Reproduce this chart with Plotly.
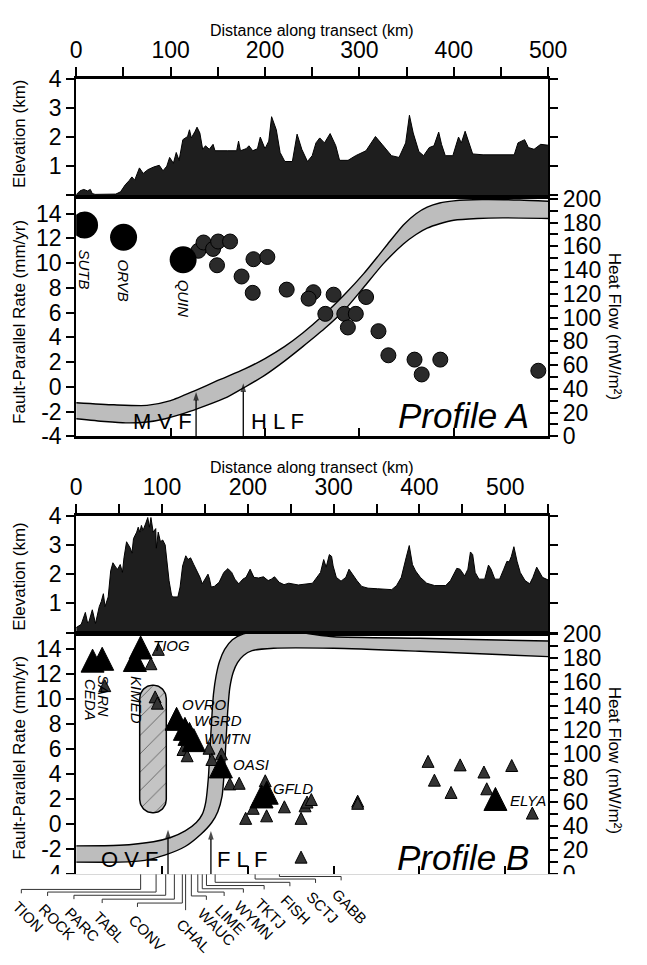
import numpy as np
import plotly.graph_objects as go

W, H = 647, 965
FONT = "Liberation Sans, Arial, Helvetica, sans-serif"

# ---------------- Profile A data ----------------
a_elev_km = [0, 2, 4, 8, 12, 15, 17, 20, 30, 42, 47, 52, 56, 59, 62, 65, 67, 71, 76, 82,
             88, 92, 96, 99, 103, 106, 109, 113, 118, 120, 122, 126, 128, 131, 134, 137, 141, 145, 147, 160,
             170, 172, 174, 180, 183, 187, 192, 195, 200, 204, 207, 212, 216, 221, 229, 234, 239, 245, 250, 254,
             258, 263, 269, 275, 279, 288, 296, 307, 317, 324, 334, 342, 349, 353, 357, 363, 368, 374, 379, 384,
             387, 391, 399, 405, 408, 412, 416, 420, 431, 464, 468, 475, 479, 485, 492, 500]
a_elev = [0.02, 0.1, 0.15, 0.2, 0.15, 0.2, 0.06, 0.03, 0.03, 0.04, 0.12, 0.36, 0.5, 0.63, 0.52, 0.75, 0.94, 0.75, 0.88, 0.97,
          1.03, 0.84, 1.0, 1.3, 1.1, 1.47, 1.2, 1.91, 2.02, 2.25, 1.97, 2.2, 2.34, 2.14, 1.58, 1.7, 1.58, 1.75, 1.53, 1.53,
          1.53, 1.86, 1.53, 1.6, 1.7, 1.53, 1.6, 2.0, 1.6, 1.86, 2.7, 2.25, 1.47, 1.16, 1.16, 2.1, 1.58, 1.16, 1.36, 1.8,
          1.97, 1.8, 2.12, 1.7, 1.2, 1.2, 1.36, 1.53, 2.02, 1.75, 1.36, 1.3, 1.8, 2.75, 2.14, 1.5, 1.36, 1.64, 1.7, 2.17,
          1.75, 1.36, 1.36, 2.0, 1.8, 2.2, 1.8, 1.42, 1.39, 1.39, 1.8, 1.91, 1.64, 1.58, 1.75, 1.72]

a_big_names = ["SUTB", "ORVB", "QUIN"]
a_big_km = [8.9, 50.2, 113.3]
a_big_rate = [13.08, 12.1, 10.27]

a_km = [129.4, 134.9, 145.0, 150.4, 149.2, 163.0, 175.2, 187.8, 202.5, 187.0, 223.0, 251.3, 246.2,
        272.7, 263.9, 284.0, 287.8, 296.2, 307.1, 320.2, 330.7, 358.4, 366.0, 385.7, 489.5]
a_rate = [11.0, 11.67, 11.15, 11.75, 9.83, 11.75, 8.92, 10.32, 10.5, 7.6, 7.86, 7.65, 7.13,
          7.45, 5.9, 5.9, 4.8, 5.9, 7.26, 4.5, 2.55, 2.2, 1.0, 2.2, 1.3]

a_hf_up_km = [0, 40, 75, 100, 126, 150, 178.6, 200, 220.6, 240, 262.6, 285, 304.6, 320, 330, 346.6,
              360, 371.8, 385, 400, 430, 470, 500]
a_hf_up = [28.3, 26.5, 26.0, 30.0, 38.5, 47.0, 56.7, 65.5, 75.5, 87.0, 102.5, 120.0, 137.0, 152.0, 162.0,
           178.0, 187.5, 193.0, 196.5, 198.3, 199.4, 199.0, 198.0]
a_hf_lo_km = [0, 30, 52.5, 75, 94.5, 115, 136.6, 160, 178.6, 200, 220.6, 240, 262.6, 285, 304.6, 325,
              346.6, 360, 371.8, 385, 400, 425, 451.7, 500]
a_hf_lo = [14.8, 12.5, 11.3, 12.0, 14.8, 19.5, 25.6, 33.0, 41.3, 51.5, 63.3, 75.5, 90.3, 107.0, 125.5,
           145.0, 162.0, 170.0, 175.3, 179.0, 182.0, 183.5, 184.0, 183.5]

a_fault_names = ["M V F", "H L F"]
a_fault_km = [127.0, 177.0]
a_fault_tip = [-0.42, 0.28]

# ---------------- Profile B data ----------------
b_elev_km = [0, 5.9, 10.7, 13.3, 15.1, 18.8, 22.5, 26.9, 29.2, 31.7, 33.6, 37.3, 40.2, 42.8, 46.5, 48.4, 51.3, 53.9, 55.7, 58.7,
             63.1, 65, 66.8, 70.5, 72.3, 74.2, 76, 77.9, 80.8, 83.4, 85.3, 87.1, 89.7, 92.7, 93.4, 95.6, 98.2, 100.8, 103.7, 105.6,
             108.2, 111.1, 113, 118.5, 121.1, 124, 127.7, 130.3, 133.3, 137, 140.6, 144.3, 146.9, 149.9, 153.6, 155.4, 157.3, 160.9, 166.5, 172,
             176.8, 181.2, 184.9, 189.4, 194.2, 197.9, 202.7, 207.1, 212.6, 218.2, 223.7, 227.4, 231.1, 236.6, 242.2, 247.7, 258.8, 275.4, 281, 284.7,
             288.4, 291.3, 295, 297.6, 299.4, 303.1, 308.6, 314.2, 317.9, 321.6, 327.1, 332.7, 340.1, 351.1, 367.7, 373.3, 378.8, 384.4, 388.1, 391.8,
             395.5, 401, 408.4, 417.6, 430.6, 436.1, 439.1, 443.5, 447.2, 452.7, 456.4, 459.4, 462, 464.9, 469.3, 476, 480.4, 483.4, 487.8, 493.4,
             498.2, 501.9, 504.5, 507.1, 510, 513.7, 517.4, 523, 528.5, 532.2, 536.6, 540.3, 543.3, 550]
b_elev = [0.17, 0.28, 0.69, 0.33, 0.39, 0.78, 0.31, 0.89, 1.06, 1.33, 0.89, 1.22, 2.11, 2.39, 2.22, 2.17, 2.33, 2.06, 2.56, 3.11,
          2.89, 2.72, 3.22, 3.44, 3.61, 3.44, 3.67, 3.5, 3.72, 3.94, 3.61, 3.94, 3.44, 3.56, 2.89, 3.44, 3.11, 3.17, 3.0, 2.44,
          1.78, 1.28, 1.22, 1.22, 1.56, 2.28, 2.63, 2.5, 2.56, 2.33, 2.11, 1.89, 1.67, 1.83, 2.0, 1.83, 1.56, 1.58, 1.72, 2.06,
          2.19, 2.06, 1.83, 1.67, 1.83, 1.89, 2.17, 1.89, 1.87, 1.91, 1.78, 1.83, 1.91, 1.72, 1.64, 1.69, 1.63, 1.69, 1.89, 2.06,
          2.5, 2.24, 2.67, 2.61, 2.28, 1.89, 1.76, 1.89, 2.17, 2.0, 1.78, 1.58, 1.52, 1.5, 1.47, 1.61, 1.89, 2.56, 2.98, 2.33,
          2.11, 1.89, 1.69, 1.61, 1.61, 1.78, 1.94, 2.2, 2.17, 1.94, 2.17, 2.76, 2.67, 2.06, 1.83, 1.83, 2.31, 2.17, 1.83, 1.83,
          2.17, 2.44, 2.42, 2.61, 2.94, 2.44, 2.06, 1.78, 1.67, 1.89, 2.24, 2.06, 1.89, 1.8]

b_big_names = ["CEDA", "SARN", "KIMED", "TIOG", "OVRO", "WGRD", "", "WMTN", "OASI", "", "GFLD", "ELYA"]
b_big_km = [19.1, 30.3, 68.4, 75.1, 117.0, 126.7, 132.0, 137.0, 168.6, 216.0, 222.0, 488.5]
b_big_rate = [12.75, 12.9, 12.8, 13.8, 8.1, 7.3, 6.9, 6.4, 4.3, 1.9, 2.2, 1.7]

b_km = [33.3, 87.1, 95.7, 92.0, 94.6, 124.5, 129.3, 154.8, 158.1, 169.3, 179.1, 189.9, 197.5, 206.3,
        220.3, 221.9, 242.6, 262.0, 266.7, 269.0, 274.0, 262.0, 328.0, 328.0, 410.0, 417.4, 436.8,
        447.4, 475.1, 478.4, 507.5, 531.5]
b_rate = [10.9, 12.65, 13.8, 10.0, 9.5, 5.8, 5.3, 5.9, 5.0, 5.45, 3.05, 3.1, 0.3, 1.1,
          3.3, 0.5, 1.22, 0.3, 1.3, 1.6, 1.8, -2.8, 1.67, 1.5, 4.85, 3.35, 2.37,
          4.57, 4.0, 2.66, 4.52, 0.72]

b_hf_up_km = [0, 50, 90, 110, 127, 140, 147, 151, 154, 156, 158, 160, 163, 167, 173, 182, 195, 215,
              260, 300, 400, 450, 550]
b_hf_up = [23.5, 24.0, 27.0, 30.5, 36.0, 43.0, 50.0, 60.0, 80.0, 105.0, 130.0, 150.0, 165.0, 177.0,
           187.0, 195.0, 200.0, 202.0, 201.0, 197.5, 196.3, 195.5, 194.0]
b_hf_lo_km = [0, 50, 80, 104, 127, 145, 158, 165, 170, 172.5, 174.5, 176.5, 179, 183, 188, 195, 205,
              230, 300, 400, 550]
b_hf_lo = [10.0, 10.0, 11.5, 16.0, 23.0, 33.0, 43.0, 52.0, 65.0, 85.0, 110.0, 135.0, 155.0, 168.0,
           176.0, 182.0, 186.0, 188.0, 188.0, 185.5, 181.0]

b_fault_names = ["O V F", "F L F"]
b_fault_km = [107.0, 157.0]
b_fault_tip = [-0.45, -0.55]

# hatched zone (km extent, rate extent)
oval_km = [74.0, 105.0]
oval_rate = [0.9, 11.1]

# stations plotted off-scale below Profile B
off_names = ["TION", "ROCK", "PARC", "TABL", "CONV", "CHAL", "WAUC", "LIME", "WYMN", "TKTJ", "FISH", "SCTJ", "GABB"]
off_km = [75.1, 93.1, 104.3, 114.4, 123.7, 127.5, 134.2, 141.7, 146.9, 151.8, 161.9, 208.5, 236.8]

for a, b in [(a_elev_km, a_elev), (a_km, a_rate), (a_hf_up_km, a_hf_up), (a_hf_lo_km, a_hf_lo),
             (b_elev_km, b_elev), (b_km, b_rate), (b_hf_up_km, b_hf_up), (b_hf_lo_km, b_hf_lo),
             (b_big_km, b_big_rate), (b_big_names, b_big_km)]:
    assert len(a) == len(b)

# ---------------- layout geometry (px) ----------------
XL, XR = 73, 564
A_ELEV = (67.7, 187.3)
A_RATE = (191.0, 435.0)
B_ELEV = (516.7, 636.7)
B_RATE = (638.0, 885.0)
RATE_RANGE = [-4, 15.2]
HF_RANGE = [0, 200]
A_MAX, B_MAX = 500, 550

def ydom(top, bot):
    return [1 - bot / H, 1 - top / H]

xdom = [XL / W, XR / W]
tickfont = dict(family=FONT, size=23, color="black")
TL = 8

def top_x(anchor, xmax):
    return dict(domain=xdom, anchor=anchor, side="top", range=[0, xmax],
                tickmode="linear", tick0=0, dtick=100, ticks="outside", ticklen=9, tickwidth=1.5,
                tickcolor="black",
                minor=dict(tickmode="linear", tick0=0, dtick=50, ticks="outside", ticklen=9,
                           tickwidth=1.5, tickcolor="black", showgrid=False),
                showline=True, linewidth=3, linecolor="black", mirror=True,
                showgrid=False, zeroline=False, tickfont=tickfont, fixedrange=True)

def rate_x(anchor, xmax):
    return dict(domain=xdom, anchor=anchor, range=[0, xmax], tickmode="linear", tick0=0, dtick=100,
                ticks="inside", ticklen=TL, tickwidth=1.5, tickcolor="black", showticklabels=False,
                showline=True, linewidth=3, linecolor="black", mirror=True,
                showgrid=False, zeroline=False, fixedrange=True)

def elev_y(anchor, box):
    return dict(domain=ydom(*box), anchor=anchor, range=[0, 4], tickmode="array",
                tickvals=[1, 2, 3, 4],
                minor=dict(tickmode="array", tickvals=[0], ticks="outside", ticklen=TL,
                           tickwidth=1.5, tickcolor="black", showgrid=False),
                ticks="outside", ticklen=TL, tickwidth=1.5, tickcolor="black", mirror="ticks",
                showline=True, linewidth=2, linecolor="black", showgrid=False, zeroline=False,
                tickfont=tickfont, fixedrange=True)

def hf_y(anchor, box):
    return dict(domain=ydom(*box), anchor=anchor, side="right", range=HF_RANGE,
                tickmode="linear", tick0=0, dtick=20, ticks="outside", ticklen=TL, tickwidth=1.5,
                tickcolor="black",
                minor=dict(tickmode="linear", tick0=0, dtick=10, ticks="outside", ticklen=TL,
                           tickwidth=1.5, tickcolor="black", showgrid=False),
                showline=True, linewidth=2, linecolor="black", showgrid=False, zeroline=False,
                tickfont=tickfont, fixedrange=True)

rate_ticks = list(range(-4, 15, 2))
def rate_y(anchor, base):
    return dict(overlaying=base, anchor=anchor, side="left", range=RATE_RANGE, tickmode="array",
                tickvals=rate_ticks, ticktext=[str(v) for v in rate_ticks],
                ticks="outside", ticklen=TL, tickwidth=1.5, tickcolor="black",
                showline=True, linewidth=2, linecolor="black", showgrid=False, zeroline=False,
                tickfont=tickfont, fixedrange=True)

fig = go.Figure()

ELEV_FILL = "#1e1e1e"
BAND_FILL = "#bdbdbd"

def add_band(lo_km, lo, up_km, up, xa, ya):
    fig.add_trace(go.Scatter(x=lo_km, y=lo, xaxis=xa, yaxis=ya, mode="lines",
                             line=dict(color="black", width=1.4, shape="spline", smoothing=0.6),
                             hoverinfo="skip"))
    fig.add_trace(go.Scatter(x=up_km, y=up, xaxis=xa, yaxis=ya, mode="lines", fill="tonexty",
                             fillcolor=BAND_FILL,
                             line=dict(color="black", width=1.4, shape="spline", smoothing=0.6),
                             hoverinfo="skip"))

def add_fault_arrows(kms, tips, xa, ya):
    for k, tp in zip(kms, tips):
        fig.add_trace(go.Scatter(x=[k, k], y=[RATE_RANGE[0], tp], xaxis=xa, yaxis=ya,
                                 mode="lines+markers", line=dict(color="black", width=1.3),
                                 marker=dict(symbol="arrow", angleref="previous", size=[0, 9],
                                             color="black", line=dict(width=0)),
                                 cliponaxis=False, hoverinfo="skip"))

# ---- Profile A traces ----
fig.add_trace(go.Scatter(x=a_elev_km, y=a_elev, xaxis="x", yaxis="y", mode="lines", fill="tozeroy",
                         fillcolor=ELEV_FILL, line=dict(color="black", width=1)))
add_band(a_hf_lo_km, a_hf_lo, a_hf_up_km, a_hf_up, "x2", "y2")
fig.add_trace(go.Scatter(x=a_km, y=a_rate, xaxis="x2", yaxis="y3", mode="markers",
                         marker=dict(size=15, color="#2a2a2a", line=dict(color="black", width=1))))
fig.add_trace(go.Scatter(x=a_big_km, y=a_big_rate, xaxis="x2", yaxis="y3", mode="markers",
                         marker=dict(size=27, color="black")))
add_fault_arrows(a_fault_km, a_fault_tip, "x2", "y3")

# ---- Profile B traces ----
fig.add_trace(go.Scatter(x=b_elev_km, y=b_elev, xaxis="x3", yaxis="y4", mode="lines", fill="tozeroy",
                         fillcolor=ELEV_FILL, line=dict(color="black", width=1)))
add_band(b_hf_lo_km, b_hf_lo, b_hf_up_km, b_hf_up, "x4", "y5")

# hatched stadium
kx = (XR - XL) / B_MAX
ky = (B_RATE[1] - B_RATE[0]) / (RATE_RANGE[1] - RATE_RANGE[0])
half_w = (oval_km[1] - oval_km[0]) / 2
r_rate = half_w * kx / ky
cx = (oval_km[0] + oval_km[1]) / 2
t = np.linspace(0, np.pi, 40)
ox = np.concatenate([cx + half_w * np.cos(t), cx + half_w * np.cos(t + np.pi), [cx + half_w]])
oy = np.concatenate([oval_rate[1] - r_rate + r_rate * np.sin(t),
                     oval_rate[0] + r_rate + r_rate * np.sin(t + np.pi), [oval_rate[1] - r_rate]])
fig.add_trace(go.Scatter(x=ox, y=oy, xaxis="x4", yaxis="y6", mode="lines", fill="toself",
                         fillcolor="#c4c4c4",
                         fillpattern=dict(shape="/", size=13, solidity=0.07, fgcolor="black",
                                          bgcolor="#c4c4c4"),
                         line=dict(color="black", width=1.5)))

SMALL_T, BIG_T = 12, 23
fig.add_trace(go.Scatter(x=b_km, y=b_rate, xaxis="x4", yaxis="y6", mode="markers",
                         marker=dict(symbol="arrow-down", angle=180, size=SMALL_T,
                                     standoff=SMALL_T * 2 / 3, color="#333333",
                                     line=dict(color="black", width=1))))
fig.add_trace(go.Scatter(x=b_big_km, y=b_big_rate, xaxis="x4", yaxis="y6", mode="markers",
                         marker=dict(symbol="arrow-down", angle=180, size=BIG_T,
                                     standoff=BIG_T * 2 / 3, color="black",
                                     line=dict(color="black", width=1))))
add_fault_arrows(b_fault_km, b_fault_tip, "x4", "y6")

# ---- leader lines for off-scale stations (full-width helper axes) ----
BOT = H - B_RATE[1]
lead_end_km = [-63.9, -33.3, -2.6, 30.3, 71.4, 127.5, 151.7, 172.4, 194.8, 219.0, 249.0, 278.9, 308.7]
lead_depth = [15.7, 18.4, 21.7, 25.7, 29.7, 33.0, 22.4, 18.4, 15.0, 11.7, 8.4, 5.0, 2.4]
lx, ly = [], []
for k, e, d in zip(off_km, lead_end_km, lead_depth):
    lx += [k, k, e, e, None]
    ly += [0, -d, -d, -d - 4, None]
fig.add_trace(go.Scatter(x=lx, y=ly, xaxis="x5", yaxis="y7", mode="lines",
                         line=dict(color="#333333", width=1)))

layout_axes = dict(
    xaxis=top_x("y", A_MAX), yaxis=elev_y("x", A_ELEV),
    xaxis2=rate_x("y2", A_MAX), yaxis2=hf_y("x2", A_RATE), yaxis3=rate_y("x2", "y2"),
    xaxis3=top_x("y4", B_MAX), yaxis4=elev_y("x3", B_ELEV),
    xaxis4=rate_x("y5", B_MAX), yaxis5=hf_y("x4", B_RATE), yaxis6=rate_y("x4", "y5"),
    xaxis5=dict(domain=[0, 1], anchor="y7", visible=False, fixedrange=True,
                range=[-XL / kx, (W - XL) / kx]),
    yaxis7=dict(domain=[0, BOT / H], anchor="x5", visible=False, fixedrange=True, range=[-BOT, 0]),
)

ann = []
def txt(text, x, y, size=17, angle=0, xref="paper", yref="paper", xa="center", ya="middle", **kw):
    d = dict(text=text, x=x, y=y, xref=xref, yref=yref, xanchor=xa, yanchor=ya, showarrow=False,
             textangle=angle, font=dict(family=FONT, size=size, color="black"))
    d.update(kw)
    ann.append(d)

cxp = (XL + XR) / 2 / W
for top_title, elev_c, rate_c, hf_c in [(18, 124, 317, 322), (467, 579, 765, 768)]:
    txt("Distance along transect (km)", cxp, 1 - top_title / H, size=16, borderpad=0)
    txt("Elevation (km)", 14 / W, 1 - elev_c / H, angle=-90)
    txt("Fault-Parallel Rate (mm/yr)", 14 / W, 1 - rate_c / H, angle=-90)
    txt("Heat Flow (mW/m²)", 633 / W, 1 - hf_c / H, angle=90)

txt("<i>Profile A</i>", 546 / W, 1 - 414 / H, size=35, xa="right")
txt("<i>Profile B</i>", 546 / W, 1 - 868 / H, size=35, xa="right")

# station labels, Profile A (rotated)
a_lab_shift = [-22, -20, -18]
for n, k, r, s in zip(a_big_names, a_big_km, a_big_rate, a_lab_shift):
    txt("<i>%s</i>" % n, k, r, size=15, angle=90, xref="x2", yref="y3", ya="top", yshift=s)

# station labels, Profile B
b_lab_style = {"CEDA": ("rot", -2, -12), "SARN": ("rot", 1.5, -10), "KIMED": ("rot", 1, -10),
               "TIOG": ("h", 11, 6), "OVRO": ("h", 4, 18), "WGRD": ("h", 8, 12), "WMTN": ("h", 9, 5),
               "OASI": ("h", 11, 6), "GFLD": ("h", 5, 8), "ELYA": ("h", 14, 2)}
for n, k, r in zip(b_big_names, b_big_km, b_big_rate):
    if not n:
        continue
    kind, dx, dy = b_lab_style[n]
    if kind == "rot":
        txt("<i>%s</i>" % n, k, r, size=15, angle=90, xref="x4", yref="y6", ya="top",
            xshift=dx, yshift=dy)
    else:
        txt("<i>%s</i>" % n, k, r, size=15, xref="x4", yref="y6", xa="left", xshift=dx, yshift=dy,
            borderpad=0)

# fault labels
a_fault_lab_km = [91.6, 213.3]
b_fault_lab_km = [62.0, 193.8]
for names, labkm, xr, yr in [(a_fault_names, a_fault_lab_km, "x2", "y3"),
                             (b_fault_names, b_fault_lab_km, "x4", "y6")]:
    for n, lk in zip(names, labkm):
        txt(n, lk, -2.8, size=22, xref=xr, yref=yr)

# off-scale station labels
for n, e, d in zip(off_names, lead_end_km, lead_depth):
    txt(n, e, -d - 4, size=15, angle=45, xref="x5", yref="y7", xa="left", ya="top",
        xshift=-15, yshift=-2)

fig.update_layout(width=W, height=H, autosize=False, margin=dict(l=0, r=0, t=0, b=0),
                  paper_bgcolor="white", plot_bgcolor="white", showlegend=False,
                  font=dict(family=FONT, color="black"), annotations=ann, **layout_axes)

fig.write_html("out.html", config={"displayModeBar": False},
               post_script="document.body.style.margin='0';")
